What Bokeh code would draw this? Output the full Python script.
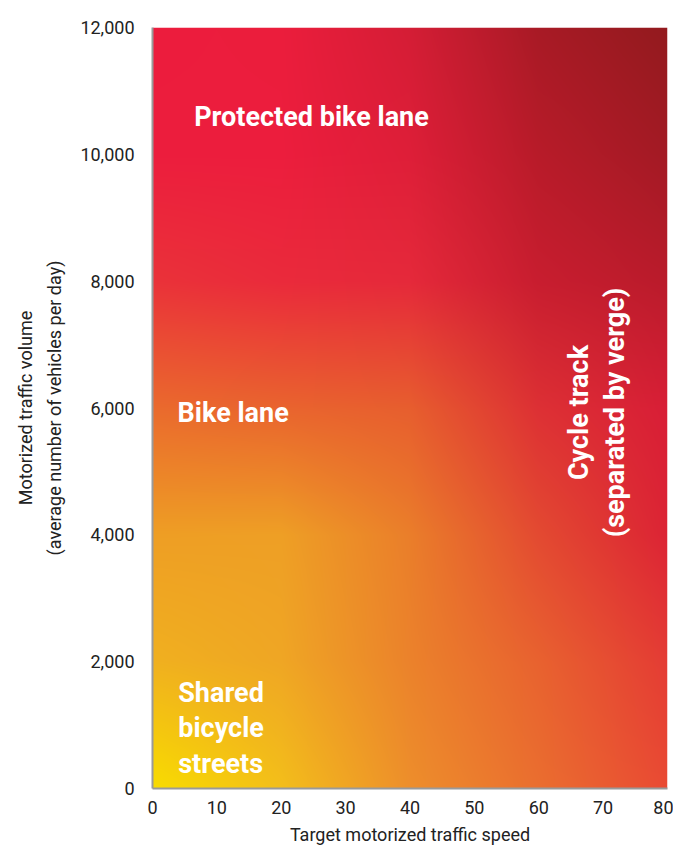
import numpy as np
from bokeh.plotting import figure
from bokeh.models import Label, NumeralTickFormatter, FixedTicker
from bokeh.embed import file_html
from bokeh.resources import INLINE

# ---- data ----
x_ticks = [0, 10, 20, 30, 40, 50, 60, 70, 80]
y_ticks = [0, 2000, 4000, 6000, 8000, 10000, 12000]
x_label = "Target motorized traffic speed"
y_label = "Motorized traffic volume\n(average number of vehicles per day)"

# gradient anchor colours (speed x volume)
grad_x = [0, 20, 40, 60, 80]
grad_y = [0, 2000, 4000, 6000, 8000, 10000, 12000]
grad_colors = [
    ["#F8DC00", "#F3BE1A", "#ED8E2B", "#EA6E2F", "#E94A33"],   # 0
    ["#F0B01F", "#EFA624", "#EB822B", "#E8622F", "#E43C34"],   # 2000
    ["#EE9E24", "#EE9F25", "#EA7E2A", "#E34A31", "#DC2434"],   # 4000
    ["#EA6A2D", "#E9642E", "#E75E2E", "#DD3034", "#D81E36"],   # 6000
    ["#EA3239", "#EA2A3B", "#E5293A", "#C81D2F", "#BA1B2B"],   # 8000
    ["#EC1D3D", "#EC1D3D", "#DE1E38", "#B81B29", "#A31A24"],   # 10000
    ["#EC1C3D", "#EB1D3C", "#D41D35", "#A81A25", "#931A1E"],   # 12000
]

zone_names = ["Protected bike lane", "Bike lane", "Shared\nbicycle\nstreets"]
zone_x = [24.7, 3.9, 4.0]
zone_y = [10585, 5929, 950]
cycle_lines = ["Cycle track", "(separated by verge)"]
cycle_x = [66.2, 71.9]
cycle_y = [5929, 5929]

X_MAX, Y_MAX = 80, 12000

# ---- gradient image ----
def hex2rgb(h):
    h = h.lstrip("#")
    return [int(h[i:i + 2], 16) for i in (0, 2, 4)]

anchors = np.array([[hex2rgb(c) for c in row] for row in grad_colors], dtype=float)
NX, NY = 520, 770
xs = np.linspace(0, X_MAX, NX)
ys = np.linspace(0, Y_MAX, NY)
tmp = np.empty((len(grad_y), NX, 3))
for i in range(len(grad_y)):
    for c in range(3):
        tmp[i, :, c] = np.interp(xs, grad_x, anchors[i, :, c])
rgb = np.empty((NY, NX, 3))
for j in range(NX):
    for c in range(3):
        rgb[:, j, c] = np.interp(ys, grad_y, tmp[:, j, c])
rgb = np.clip(np.round(rgb), 0, 255).astype(np.uint32)
img = ((255 << 24) | (rgb[:, :, 2] << 16) | (rgb[:, :, 1] << 8) | rgb[:, :, 0]).astype(np.uint32)

FONT = "Roboto"

p = figure(width=673, height=849, x_range=(0, X_MAX), y_range=(0, Y_MAX),
           output_backend="svg", toolbar_location=None,
           min_border_left=152, min_border_right=6, min_border_top=27, min_border_bottom=61)
p.image_rgba(image=[img], x=0, y=0, dw=X_MAX, dh=Y_MAX)

p.xgrid.visible = False
p.ygrid.visible = False
p.outline_line_color = None
p.background_fill_color = "white"
p.border_fill_color = "white"

for ax in (p.xaxis[0], p.yaxis[0]):
    ax.axis_line_color = "#9a9a9a"
    ax.axis_line_width = 2
    ax.major_tick_line_color = None
    ax.minor_tick_line_color = None
    ax.major_label_text_font = FONT
    ax.major_label_text_font_size = "18px"
    ax.major_label_text_color = "#222222"
    ax.axis_label_text_font = FONT
    ax.axis_label_text_font_size = "18px"
    ax.axis_label_text_font_style = "normal"
    ax.axis_label_text_color = "#222222"
p.xaxis.ticker = FixedTicker(ticks=x_ticks)
p.yaxis.ticker = FixedTicker(ticks=y_ticks)
p.yaxis.formatter = NumeralTickFormatter(format="0,0")
p.xaxis.major_label_standoff = 6
p.yaxis.major_label_standoff = 12
p.xaxis.axis_label = x_label
p.yaxis.axis_label = y_label
p.xaxis.axis_label_standoff = 7
p.yaxis.axis_label_standoff = 12
p.yaxis.axis_label_text_line_height = 1.42

def zone_label(x, y, text, align, angle=0.0):
    return Label(x=x, y=y, text=text, angle=angle, text_font=FONT,
                 text_font_style="bold", text_font_size="27px", text_color="white",
                 text_align=align, text_baseline="middle", text_line_height=1.11)

p.add_layout(zone_label(zone_x[0], zone_y[0], zone_names[0], "center"))
p.add_layout(zone_label(zone_x[1], zone_y[1], zone_names[1], "left"))
p.add_layout(zone_label(zone_x[2], zone_y[2], zone_names[2], "left"))
for t, cx, cy in zip(cycle_lines, cycle_x, cycle_y):
    p.add_layout(zone_label(cx, cy, t, "center", angle=np.pi / 2))

open("out.html", "w").write(file_html(p, INLINE))
